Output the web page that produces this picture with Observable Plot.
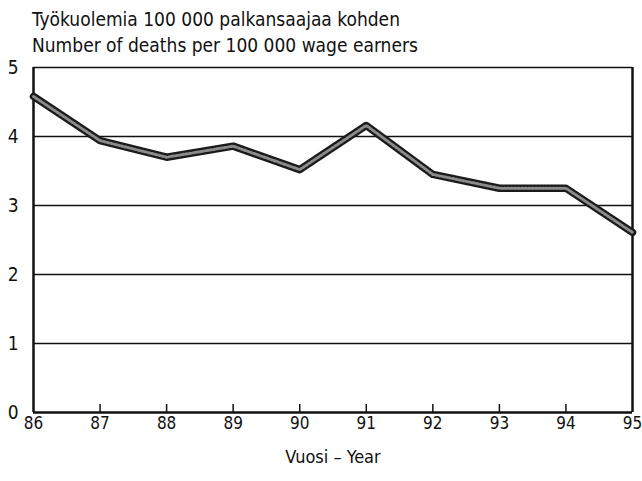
<!DOCTYPE html>
<html>
<head>
<meta charset="utf-8">
<script src="https://cdn.jsdelivr.net/npm/d3@7"></script>
<script src="https://cdn.jsdelivr.net/npm/@observablehq/plot@0.6"></script>
<style>
  html, body { margin: 0; padding: 0; background: #fff; }
  #wrap { width: 642px; height: 481px; position: relative; font-family: "DejaVu Sans Condensed", "Liberation Sans Narrow", sans-serif; }
  #title { position: absolute; left: 32px; top: 6px; font-size: 19px; line-height: 26px; color: #111; white-space: nowrap; }
  #chart { position: absolute; left: 0; top: 56px; }
</style>
</head>
<body>
<div id="wrap">
  <div id="title">Työkuolemia 100 000 palkansaajaa kohden<br>Number of deaths per 100 000 wage earners</div>
  <div id="chart"></div>
</div>
<script>
const years = [86, 87, 88, 89, 90, 91, 92, 93, 94, 95];
const deaths = [4.58, 3.94, 3.70, 3.86, 3.52, 4.16, 3.45, 3.25, 3.25, 2.61];
const yTicks = [0, 1, 2, 3, 4, 5];
const xLabel = "Vuosi – Year";

const data = years.map((y, i) => ({year: y, value: deaths[i]}));
const font = '"DejaVu Sans Condensed", "Liberation Sans Narrow", sans-serif';

const chart = Plot.plot({
  width: 642,
  height: 425,
  marginLeft: 33,
  marginRight: 10,
  marginTop: 11,
  marginBottom: 69,
  style: {fontFamily: font, fontSize: "18px", color: "#111", background: "#fff"},
  x: {type: "linear", domain: [86, 95]},
  y: {type: "linear", domain: [0, 5]},
  marks: [
    Plot.gridY(yTicks.slice(1), {stroke: "#111", strokeOpacity: 1, strokeWidth: 1.3}),
    Plot.axisY(yTicks, {tickSize: 0, tickPadding: 15, fontSize: 19, tickFormat: d => String(d), label: null}),
    Plot.axisX(years, {tickSize: 0, tickPadding: 4, fontSize: 17, tickFormat: d => String(d), label: null}),
    Plot.axisX(years.slice(1, -1), {tickSize: -8, text: null, label: null, stroke: "#111", strokeWidth: 1.5}),
    Plot.ruleX([86, 95], {stroke: "#111", strokeWidth: 2.5}),
    Plot.ruleY([0], {stroke: "#111", strokeWidth: 2.5}),
    Plot.line(data, {x: "year", y: "value", stroke: "#1a1a1a", strokeWidth: 7.5, strokeLinejoin: "round", strokeLinecap: "round"}),
    Plot.line(data, {x: "year", y: "value", stroke: "#8a8a8a", strokeWidth: 3, strokeDasharray: "1.5,2", strokeLinejoin: "round"}),
    Plot.text([xLabel], {frameAnchor: "bottom", lineAnchor: "middle", dy: 45, fontSize: 18, text: d => d})
  ]
});
document.getElementById("chart").appendChild(chart);
</script>
</body>
</html>
